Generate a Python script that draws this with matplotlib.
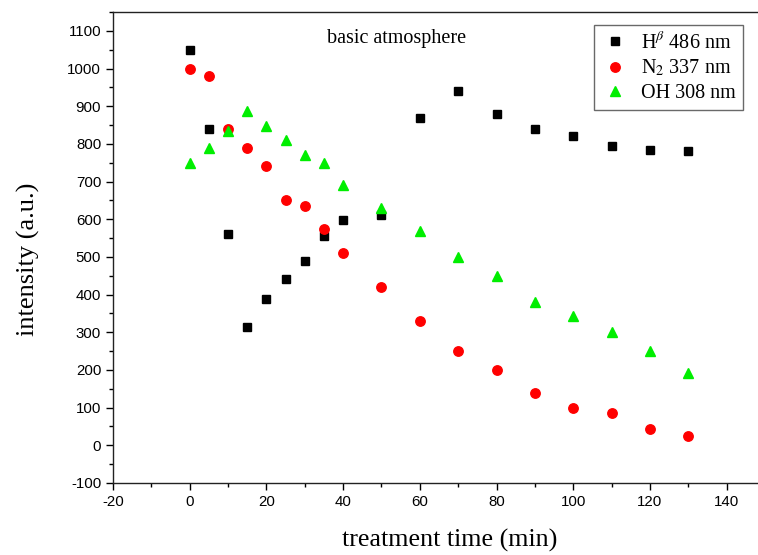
import matplotlib
matplotlib.use("Agg")
import matplotlib.pyplot as plt
from matplotlib.ticker import MultipleLocator

time_min = [0, 5, 10, 15, 20, 25, 30, 35, 40, 50, 60, 70, 80, 90, 100, 110, 120, 130]
h_beta = [1050, 840, 560, 315, 387, 442, 490, 555, 597, 610, 870, 940, 878, 840, 820, 795, 785, 780]
n2 = [1000, 980, 840, 790, 740, 650, 635, 575, 510, 420, 330, 250, 200, 140, 98, 85, 42, 25]
oh = [750, 790, 835, 888, 848, 810, 770, 750, 690, 630, 568, 500, 450, 380, 343, 300, 250, 192]

labels = [r'H$^{\beta}$ 486 nm', r'N$_2$ 337 nm', 'OH 308 nm']

plt.rcParams['mathtext.fontset'] = 'stix'
plt.rcParams['axes.unicode_minus'] = False
serif = 'Liberation Serif'
sans = 'Liberation Sans'

fig = plt.figure(figsize=(7.58, 5.55), dpi=100)
ax = fig.add_axes([113/758, 1 - 483/555, (765 - 113)/758, (483 - 12)/555])

ax.plot(time_min, h_beta, linestyle='none', marker='s', color='black', markersize=6.2, label=labels[0])
ax.plot(time_min, n2, linestyle='none', marker='o', color='#ff0000', markeredgecolor='#ff0000', markersize=6.8, label=labels[1])
ax.plot(time_min, oh, linestyle='none', marker='^', color='#00ee00', markeredgecolor='#00ee00', markersize=7.5, label=labels[2])

ax.set_xlim(-20, 150)
ax.set_ylim(-100, 1150)
ax.xaxis.set_minor_locator(MultipleLocator(10))
ax.yaxis.set_minor_locator(MultipleLocator(50))
ax.set_xticks(range(-20, 141, 20))
ax.set_yticks(range(-100, 1101, 100))

ax.tick_params(which='major', direction='out', length=5, width=1, labelsize=10.8, top=False, right=False)
ax.tick_params(which='minor', direction='out', length=3, width=1, top=False, right=False)
for lab in ax.get_xticklabels() + ax.get_yticklabels():
    lab.set_fontfamily(sans)
for s in ax.spines.values():
    s.set_linewidth(1.0)
    s.set_color('#222222')

ax.set_xlabel('treatment time (min)', fontfamily=serif, fontsize=18.7)
ax.set_ylabel('intensity (a.u.)', fontfamily=serif, fontsize=19)
ax.xaxis.set_label_coords((449.5 - 113)/652, (483 - 529)/471)
ax.yaxis.set_label_coords((40 - 113)/652, (483 - 259.5)/471)

ax.text((397 - 113)/652, (483 - 39)/471, 'basic atmosphere', transform=ax.transAxes,
        fontfamily=serif, fontsize=14.5, ha='center', va='center')

leg = ax.legend(loc='upper right', bbox_to_anchor=((743 - 113)/652, (483 - 25)/471),
                prop={'family': serif, 'size': 14.5}, frameon=True, fancybox=False,
                edgecolor='#444444', borderpad=0.35, labelspacing=0.25, handletextpad=0.6,
                handlelength=1.4, borderaxespad=0)
leg.get_frame().set_linewidth(1.0)

fig.savefig('out.png', dpi=100)
